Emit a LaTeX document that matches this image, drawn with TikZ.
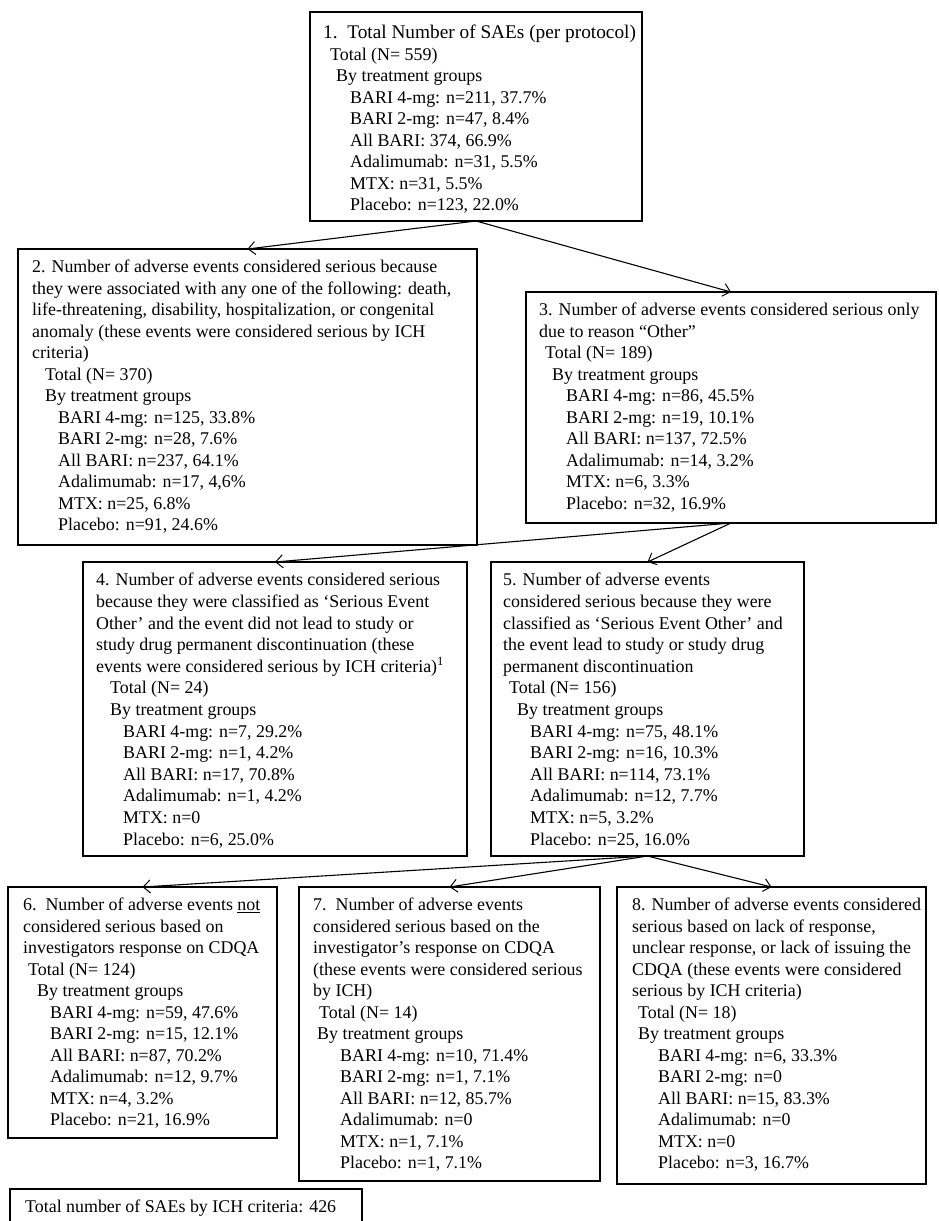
\documentclass[tikz,border=0pt]{standalone}
\usepackage{fontspec}
\setmainfont{Liberation Serif}
\usetikzlibrary{arrows.meta}
\tikzset{
  box/.style={draw=black, line width=1.3pt, anchor=north west, inner sep=0pt, outer sep=0pt},
  txt/.style={anchor=north west, align=left, inner sep=0pt, font=\fontsize{17.9}{21.5}\selectfont, text=black},
  txtn/.style={txt, font=\fontsize{17.9}{21.6}\selectfont},
  arr/.style={line width=1.1pt, -{Straight Barb[length=7pt,width=13pt,line width=1pt]}},
}
\newcommand\ind[1]{\hspace*{#1pt}}
\begin{document}
\begin{tikzpicture}[x=1pt,y=-1pt]
\useasboundingbox (0,0) rectangle (938,1221);

% boxes
\node[box, minimum width=332pt, minimum height=209pt] (b1) at (310,12) {};
\node[box, minimum width=459pt, minimum height=296pt] (b2) at (18,249) {};
\node[box, minimum width=410pt, minimum height=231pt] (b3) at (526,292) {};
\node[box, minimum width=384pt, minimum height=294pt] (b4) at (83,562) {};
\node[box, minimum width=313pt, minimum height=294pt] (b5) at (491,562) {};
\node[box, minimum width=269pt, minimum height=251pt] (b6) at (8,887) {};
\node[box, minimum width=301pt, minimum height=294pt] (b7) at (299,887) {};
\node[box, minimum width=309pt, minimum height=297pt] (b8) at (617,887) {};
\node[box, minimum width=352pt, minimum height=60pt] (b9) at (10,1189) {};

% texts
\node[txt] (t1) at (323,25) {{\fontsize{19.3}{21.5}\selectfont 1.\ \ Total Number of SAEs (per protocol)}\\
\ind{7}Total (N= 559)\\
\ind{13}By treatment groups\\
\ind{27}BARI 4-mg: n=211, 37.7\%\\
\ind{27}BARI 2-mg: n=47, 8.4\%\\
\ind{27}All BARI: 374, 66.9\%\\
\ind{27}Adalimumab: n=31, 5.5\%\\
\ind{27}MTX: n=31, 5.5\%\\
\ind{27}Placebo: n=123, 22.0\%};

\node[txt] (t2) at (32,260) {2. Number of adverse events considered serious because\\
they were associated with any one of the following: death,\\
life-threatening, disability, hospitalization, or congenital\\
anomaly (these events were considered serious by ICH\\
criteria)\\
\ind{13}Total (N= 370)\\
\ind{13}By treatment groups\\
\ind{26}BARI 4-mg: n=125, 33.8\%\\
\ind{26}BARI 2-mg: n=28, 7.6\%\\
\ind{26}All BARI: n=237, 64.1\%\\
\ind{26}Adalimumab: n=17, 4,6\%\\
\ind{26}MTX: n=25, 6.8\%\\
\ind{26}Placebo: n=91, 24.6\%};

\node[txt] (t3) at (539,303) {3. Number of adverse events considered serious only\\
due to reason “Other”\\
\ind{6}Total (N= 189)\\
\ind{13}By treatment groups\\
\ind{27}BARI 4-mg: n=86, 45.5\%\\
\ind{27}BARI 2-mg: n=19, 10.1\%\\
\ind{27}All BARI: n=137, 72.5\%\\
\ind{27}Adalimumab: n=14, 3.2\%\\
\ind{27}MTX: n=6, 3.3\%\\
\ind{27}Placebo: n=32, 16.9\%};

\node[txtn] (t4) at (96,573) {4. Number of adverse events considered serious\\
because they were classified as ‘Serious Event\\
Other’ and the event did not lead to study or\\
study drug permanent discontinuation (these\\
events were considered serious by ICH criteria)\textsuperscript{1}\\
\ind{14}Total (N= 24)\\
\ind{14}By treatment groups\\
\ind{27}BARI 4-mg: n=7, 29.2\%\\
\ind{27}BARI 2-mg: n=1, 4.2\%\\
\ind{27}All BARI: n=17, 70.8\%\\
\ind{27}Adalimumab: n=1, 4.2\%\\
\ind{27}MTX: n=0\\
\ind{27}Placebo: n=6, 25.0\%};

\node[txtn] (t5) at (503,573) {5. Number of adverse events\\
considered serious because they were\\
classified as ‘Serious Event Other’ and\\
the event lead to study or study drug\\
permanent discontinuation\\
\ind{6}Total (N= 156)\\
\ind{14}By treatment groups\\
\ind{27}BARI 4-mg: n=75, 48.1\%\\
\ind{27}BARI 2-mg: n=16, 10.3\%\\
\ind{27}All BARI: n=114, 73.1\%\\
\ind{27}Adalimumab: n=12, 7.7\%\\
\ind{27}MTX: n=5, 3.2\%\\
\ind{27}Placebo: n=25, 16.0\%};

\node[txt] (t6) at (23,898) {6.\ \ Number of adverse events \underline{not}\\
considered serious based on\\
investigators response on CDQA\\
\ind{5}Total (N= 124)\\
\ind{14}By treatment groups\\
\ind{27}BARI 4-mg: n=59, 47.6\%\\
\ind{27}BARI 2-mg: n=15, 12.1\%\\
\ind{27}All BARI: n=87, 70.2\%\\
\ind{27}Adalimumab: n=12, 9.7\%\\
\ind{27}MTX: n=4, 3.2\%\\
\ind{27}Placebo: n=21, 16.9\%};

\node[txt] (t7) at (313,898) {7.\ \ Number of adverse events\\
considered serious based on the\\
investigator’s response on CDQA\\
(these events were considered serious\\
by ICH)\\
\ind{6}Total (N= 14)\\
\ind{4}By treatment groups\\
\ind{27}BARI 4-mg: n=10, 71.4\%\\
\ind{27}BARI 2-mg: n=1, 7.1\%\\
\ind{27}All BARI: n=12, 85.7\%\\
\ind{27}Adalimumab: n=0\\
\ind{27}MTX: n=1, 7.1\%\\
\ind{27}Placebo: n=1, 7.1\%};

\node[txt] (t8) at (632,898) {8. Number of adverse events considered\\
serious based on lack of response,\\
unclear response, or lack of issuing the\\
CDQA (these events were considered\\
serious by ICH criteria)\\
\ind{6}Total (N= 18)\\
\ind{6}By treatment groups\\
\ind{26}BARI 4-mg: n=6, 33.3\%\\
\ind{26}BARI 2-mg: n=0\\
\ind{26}All BARI: n=15, 83.3\%\\
\ind{26}Adalimumab: n=0\\
\ind{26}MTX: n=0\\
\ind{26}Placebo: n=3, 16.7\%};

\node[txt] (t9) at (25,1200) {Total number of SAEs by ICH criteria: 426};

% connectors
\draw[arr] (b1.south) -- (b2.north);
\draw[arr] (b1.south) -- (b3.north);
\draw[arr] (b3.south) -- (b4.north);
\draw[arr] (b3.south) -- (b5.north);
\draw[arr] (b5.south) -- (b6.north);
\draw[arr] (b5.south) -- (b7.north);
\draw[arr] (b5.south) -- (b8.north);
\end{tikzpicture}
\end{document}
